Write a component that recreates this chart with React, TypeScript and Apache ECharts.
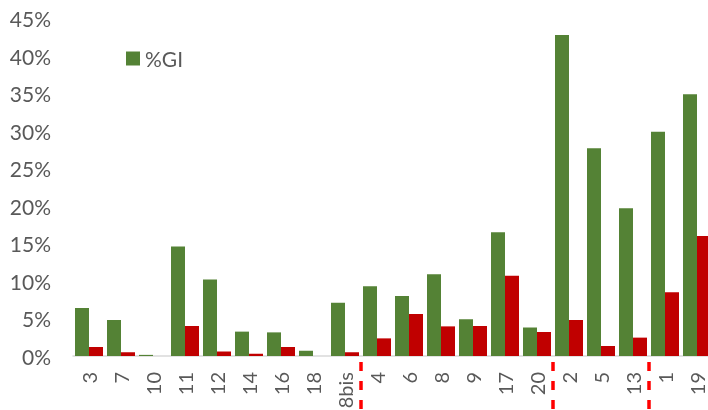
import React, { useEffect, useRef } from "react";
import * as echarts from "echarts";

const categories = ["3", "7", "10", "11", "12", "14", "16", "18", "8bis", "4", "6", "8", "9", "17", "20", "2", "5", "13", "1", "19"];
const giValues = [6.4, 4.8, 0.15, 14.6, 10.2, 3.25, 3.15, 0.7, 7.1, 9.3, 8.0, 10.9, 4.9, 16.5, 3.8, 42.8, 27.7, 19.7, 29.9, 34.9];
const redValues = [1.2, 0.5, 0, 4.0, 0.6, 0.3, 1.2, 0, 0.5, 2.35, 5.6, 3.95, 4.0, 10.7, 3.2, 4.8, 1.33, 2.45, 8.5, 16.0];
const groupStarts = [9, 15, 18];

const FONT = "Lato";
const TEXT = "#595959";

export default function App() {
  const ref = useRef<HTMLDivElement>(null);
  useEffect(() => {
    if (!ref.current) return;
    const chart = echarts.init(ref.current, null, { renderer: "svg" });
    chart.setOption({
      animation: false,
      textStyle: { fontFamily: FONT },
      legend: {
        data: ["%GI"],
        left: 126,
        top: 48,
        padding: 0,
        itemWidth: 14,
        itemHeight: 14,
        icon: "rect",
        textStyle: { fontFamily: FONT, fontSize: 21, color: TEXT },
      },
      grid: { left: 73, top: 18.5, width: 640, height: 337.5, containLabel: false, outerBoundsMode: "none" },
      xAxis: {
        type: "category",
        data: categories,
        axisLine: { lineStyle: { color: "#d9d9d9", width: 1.5 } },
        axisTick: { show: false },
        axisLabel: { rotate: 90, margin: 16, fontFamily: FONT, fontSize: 20, color: TEXT, interval: 0 },
      },
      yAxis: {
        type: "value",
        min: 0,
        max: 45,
        interval: 5,
        splitLine: { show: false },
        axisLine: { show: false },
        axisTick: { show: false },
        axisLabel: { formatter: "{value}%", margin: 22, fontFamily: FONT, fontSize: 21, color: TEXT },
      },
      series: [
        {
          name: "%GI",
          type: "bar",
          data: giValues,
          itemStyle: { color: "#548235" },
          barGap: "0%",
          barCategoryGap: "12.5%",
        },
        {
          name: "other",
          type: "bar",
          data: redValues,
          itemStyle: { color: "#C00000" },
          barGap: "0%",
          barCategoryGap: "12.5%",
        },
      ],
    });
    const lines = groupStarts.map((i) => {
      const a = chart.convertToPixel({ xAxisIndex: 0 }, i - 1) as number;
      const b = chart.convertToPixel({ xAxisIndex: 0 }, i) as number;
      const x = (a + b) / 2;
      return {
        type: "line",
        shape: { x1: x, y1: 362, x2: x, y2: 412 },
        style: { stroke: "#FF0000", lineWidth: 3.5, lineDash: [9, 10] },
      };
    });
    chart.setOption({ graphic: lines });
    return () => chart.dispose();
  }, []);
  return <div ref={ref} style={{ position: "fixed", left: 0, top: 0, width: 708, height: 410 }} />;
}
